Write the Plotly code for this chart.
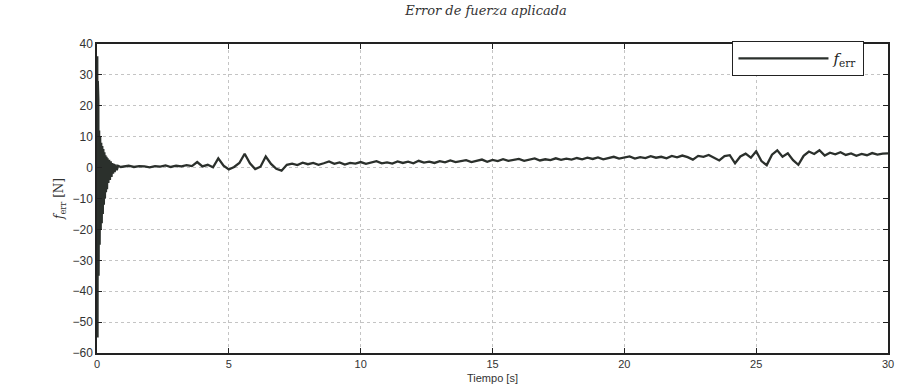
import plotly.graph_objects as go

# Transient at the start (s, N)
t_trans = [0.00, 0.01, 0.02, 0.03, 0.04, 0.05, 0.06, 0.08, 0.10, 0.12, 0.14, 0.16, 0.18,
           0.20, 0.22, 0.24, 0.26, 0.28, 0.30, 0.32, 0.34, 0.36, 0.38, 0.40, 0.43, 0.46,
           0.49, 0.52, 0.55, 0.58, 0.61, 0.64, 0.67, 0.70, 0.75, 0.80, 0.90]
f_trans = [0, 36, -55, 28, -48, 22, -35, 12, -25, 10, -20, 8, -18,
           7, -15, 6, -12, 5, -10, 4, -8, 3.5, -7, 3, -5, 2.5,
           -4, 2, -3, 1.5, -2, 1.2, -1.5, 1.0, -0.8, 0.6, 0.2]

# Remaining signal, sampled every 0.2 s from 1.0 s to 30.0 s
t_main = [round(1.0 + 0.2 * i, 1) for i in range(146)]
f_main = [
    0.3, 0.6, 0.2, 0.5, 0.4,
    0.1, 0.5, 0.3, 0.7, 0.2,
    0.6, 0.4, 0.8, 0.5, 1.8,
    0.4, 0.9, 0.1, 3.0, 0.6,
    -0.6, 0.2, 1.5, 4.5, 1.4,
    -0.5, 0.3, 3.6, 1.2, -0.4,
    -1.0, 0.9, 1.3, 0.8, 1.6,
    1.1, 1.5, 0.9, 1.4, 2.0,
    1.2, 1.7, 1.0, 1.5, 1.3,
    1.8, 1.2, 1.6, 2.1, 1.4,
    1.7, 1.3, 2.0, 1.5, 1.9,
    1.4, 2.2, 1.6, 1.9, 1.5,
    2.1, 1.7, 2.3, 1.8, 2.0,
    2.4, 1.8, 2.2, 2.6, 1.9,
    2.5, 2.1, 2.7, 2.2, 2.4,
    2.8, 2.2, 2.6, 3.0, 2.3,
    2.7, 2.4, 3.0, 2.5, 2.9,
    2.6, 3.1, 2.7, 3.2, 2.8,
    3.3, 2.7, 3.1, 3.5, 2.9,
    3.2, 3.6, 2.9, 3.4, 3.1,
    3.7, 3.2, 3.5, 3.0, 3.8,
    3.3, 3.9, 3.4, 2.6, 3.8,
    3.5, 4.1, 3.2, 2.3, 3.7,
    4.0, 1.4, 3.6, 4.5, 3.2,
    5.3, 2.1, 0.8, 4.2, 5.6,
    3.5, 4.6, 2.4, 0.9, 3.8,
    5.2, 4.4, 5.6, 3.9, 4.8,
    4.3, 5.0, 4.1, 4.6, 3.8,
    4.4, 4.0, 4.7, 4.2, 4.5,
    4.6,
]

x_ticks = [0, 5, 10, 15, 20, 25, 30]
y_ticks = [40, 30, 20, 10, 0, -10, -20, -30, -40, -50, -60]

t = t_trans + t_main
f = f_trans + f_main

fig = go.Figure()
fig.add_trace(go.Scatter(
    x=t, y=f, mode="lines", name="<i>f</i><sub>err</sub>",
    line=dict(color="#2b302c", width=2.3),
))

axis_common = dict(
    showline=True, linecolor="#222", linewidth=1.5, mirror="ticks",
    ticks="inside", ticklen=5, tickcolor="#222", automargin=False,
    showgrid=True, gridcolor="#c4c4c4", griddash="dot", gridwidth=1,
    zeroline=False,
)

fig.update_layout(
    width=900, height=387,
    paper_bgcolor="white", plot_bgcolor="white",
    margin=dict(l=97, r=12, t=44, b=34, autoexpand=False),
    title=dict(text="<i>Error de fuerza aplicada</i>", x=0.54, xanchor="center",
               y=0.985, yanchor="top",
               font=dict(family="DejaVu Serif, serif", size=13, color="#333")),
    xaxis=dict(range=[0, 30], tickvals=x_ticks, **axis_common,
               tickfont=dict(family="Liberation Sans, Arial", size=11, color="#333")),
    yaxis=dict(range=[-60, 40], tickvals=y_ticks, **axis_common,
               tickfont=dict(family="Liberation Sans, Arial", size=12, color="#333"),
               title=dict(text="<i>f</i><sub>err</sub> [N]", standoff=6,
                          font=dict(family="DejaVu Serif, serif", size=12, color="#333"))),
    showlegend=True,
    legend=dict(x=0.97, y=1.01, xanchor="right", yanchor="top",
                bgcolor="white", bordercolor="#222", borderwidth=1.2,
                font=dict(family="DejaVu Serif, serif", size=15, color="#222"),
                itemwidth=90),
    annotations=[dict(text="Tiempo [s]", xref="paper", yref="paper",
                      x=0.5, y=-0.107, xanchor="center", yanchor="bottom",
                      showarrow=False,
                      font=dict(family="Liberation Sans, Arial", size=11, color="#333"))],
)

fig.write_html("out.html")
